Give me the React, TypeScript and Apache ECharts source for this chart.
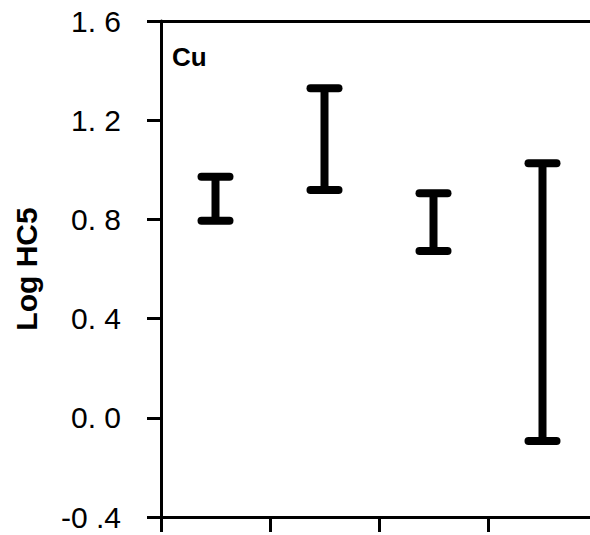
import React, { useEffect, useRef } from "react";
import * as echarts from "echarts";

// Groups along the x axis (no labels drawn)
const groups = ["G1", "G2", "G3", "G4"];
// Lower and upper bounds of log HC5 for each group
const lowerBounds = [0.795, 0.919, 0.673, -0.094];
const upperBounds = [0.972, 1.329, 0.905, 1.026];
// Y axis tick values and their printed labels
const yTickValues = [-0.4, 0.0, 0.4, 0.8, 1.2, 1.6];
const yTickLabels = ["-0 .4", "0. 0", "0. 4", "0. 8", "1. 2", "1. 6"];
const panelLabel = "Cu";
const yTitle = "Log HC5";

const INK = "#000";
const FONT = "Liberation Sans, Arial, sans-serif";

export default function App() {
  const ref = useRef<HTMLDivElement>(null);

  useEffect(() => {
    if (!ref.current) return;
    const chart = echarts.init(ref.current, null, { renderer: "svg" });

    const data = groups.map((_, i) => [i, lowerBounds[i], upperBounds[i]]);

    const labelFor = (v: number) => {
      const idx = yTickValues.findIndex((t) => Math.abs(t - v) < 1e-6);
      return idx >= 0 ? yTickLabels[idx] : "";
    };

    chart.setOption({
      animation: false,
      backgroundColor: "#fff",
      // the plot frame's right edge lies just outside the visible frame
      grid: { left: 161, top: 21, width: 436, height: 496, containLabel: false },
      xAxis: [
        {
          type: "category",
          data: groups,
          boundaryGap: true,
          position: "bottom",
          axisLine: { show: true, onZero: false, lineStyle: { color: INK, width: 3 } },
          axisTick: { show: true, length: 15, inside: false, lineStyle: { color: INK, width: 3 } },
          axisLabel: { show: false },
          splitLine: { show: false },
        },
        {
          type: "category",
          data: groups,
          position: "top",
          axisLine: { show: true, onZero: false, lineStyle: { color: INK, width: 3 } },
          axisTick: { show: false },
          axisLabel: { show: false },
          splitLine: { show: false },
        },
      ],
      yAxis: {
        type: "value",
        min: -0.4,
        max: 1.6,
        interval: 0.4,
        name: yTitle,
        nameLocation: "middle",
        nameGap: 120,
        nameTextStyle: {
          fontFamily: FONT,
          fontWeight: "bold",
          fontSize: 30,
          color: INK,
        },
        axisLine: { show: true, onZero: false, lineStyle: { color: INK, width: 3 } },
        axisTick: { show: true, length: 14, inside: false, lineStyle: { color: INK, width: 3 } },
        axisLabel: {
          margin: 40,
          formatter: (v: number) => labelFor(v),
          fontFamily: FONT,
          fontSize: 30,
          color: INK,
        },
        splitLine: { show: false },
      },
      graphic: [
        {
          type: "text",
          left: 172,
          top: 44,
          style: {
            text: panelLabel,
            fontFamily: FONT,
            fontWeight: "bold",
            fontSize: 26,
            fill: INK,
          },
        },
      ],
      series: [
        {
          type: "custom",
          data,
          renderItem: (_params: any, api: any) => {
            const x = api.value(0);
            const lo = api.coord([x, api.value(1)]);
            const hi = api.coord([x, api.value(2)]);
            const half = 14;
            const style = { stroke: INK, lineWidth: 8, lineCap: "round" };
            return {
              type: "group",
              children: [
                {
                  type: "line",
                  shape: { x1: lo[0], y1: lo[1], x2: hi[0], y2: hi[1] },
                  style: { stroke: INK, lineWidth: 8, lineCap: "butt" },
                },
                {
                  type: "line",
                  shape: { x1: hi[0] - half, y1: hi[1], x2: hi[0] + half, y2: hi[1] },
                  style,
                },
                {
                  type: "line",
                  shape: { x1: lo[0] - half, y1: lo[1], x2: lo[0] + half, y2: lo[1] },
                  style,
                },
              ],
            };
          },
        },
      ],
    });

    return () => chart.dispose();
  }, []);

  return (
    <div
      style={{
        position: "fixed",
        left: 0,
        top: 0,
        width: 590,
        height: 535,
        overflow: "hidden",
        background: "#fff",
      }}
    >
      <div ref={ref} style={{ width: 610, height: 535 }} />
    </div>
  );
}
